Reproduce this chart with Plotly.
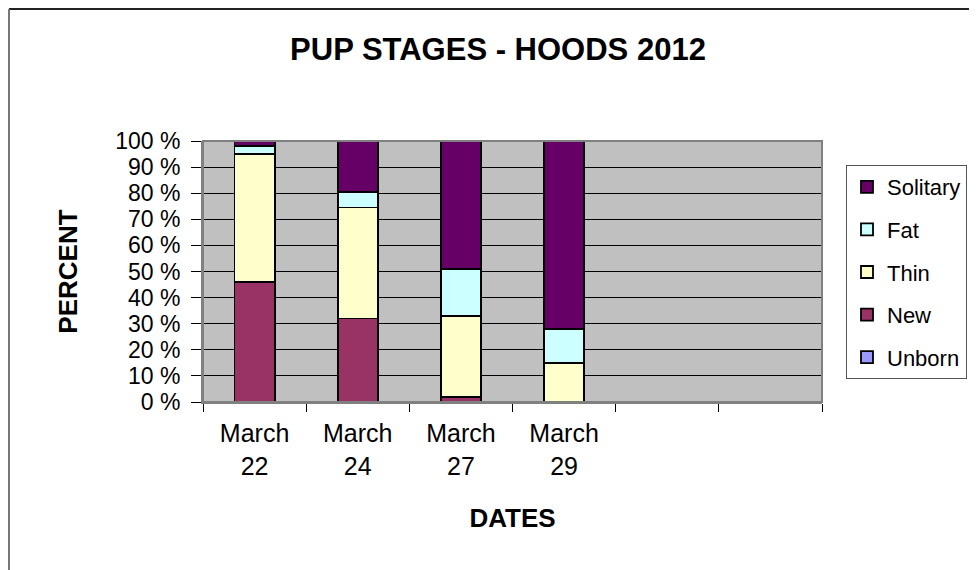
import plotly.graph_objects as go

dates = ["March<br>22", "March<br>24", "March<br>27", "March<br>29"]
empty_slots = [" ", "  "]
categories = dates + empty_slots

unborn = [0, 0, 0, 0]
new = [46, 32, 2, 0]
thin = [49, 42.5, 31, 15]
fat = [3, 6, 18, 13]
solitary = [2, 19.5, 49, 72]

series = [
    ("Unborn", unborn, "#9999FF"),
    ("New", new, "#993366"),
    ("Thin", thin, "#FFFFCC"),
    ("Fat", fat, "#CCFFFF"),
    ("Solitary", solitary, "#660066"),
]

FONT = "Liberation Sans, Arial, sans-serif"

fig = go.Figure()
n = len(series)
for i, (name, vals, color) in enumerate(series):
    fig.add_trace(go.Bar(
        x=dates, y=vals, name=name, legendgroup=name, legendrank=n - i,
        marker=dict(color=color, line=dict(color="black", width=1.8)),
        width=0.39,
    ))

OFF = 8  # page offset of the figure inside the browser window
W, H = 977, 570
L, R, T, B = 203 - OFF, 822 - OFF, 141 - OFF, 402 - OFF


def px(xw):
    return (xw - OFF - L) / (R - L)


def py(yw):
    return (B - (yw - OFF)) / (B - T)


fig.update_layout(
    width=W, height=H,
    margin=dict(l=L, r=W - R, t=T, b=H - B, autoexpand=False),
    barmode="stack",
    paper_bgcolor="white",
    plot_bgcolor="#C0C0C0",
    font=dict(family=FONT, color="black"),
    title=dict(text="<b>PUP STAGES - HOODS 2012</b>", x=(498 - OFF) / W, xref="container",
               y=1 - (49 - OFF) / H, yref="container", xanchor="center", yanchor="middle",
               font=dict(size=31, family=FONT, color="black")),
    xaxis=dict(
        type="category", categoryorder="array", categoryarray=categories,
        range=[-0.5, len(categories) - 0.5],
        tickson="boundaries", ticks="outside", ticklen=8, tickcolor="black", tickwidth=1,
        ticklabelstandoff=8,
        showline=True, linecolor="#808080", linewidth=2,
        showgrid=False,
        tickfont=dict(size=25, family=FONT, color="black"),
        title=dict(text="<b>DATES</b>", font=dict(size=26, family=FONT, color="black"), standoff=30),
        automargin=False,
    ),
    yaxis=dict(
        range=[0, 100], dtick=10, ticksuffix=" %",
        ticks="outside", ticklen=10, tickcolor="black", tickwidth=1,
        ticklabelstandoff=6,
        showline=True, linecolor="#808080", linewidth=2,
        showgrid=True, gridcolor="black", gridwidth=1,
        zeroline=False,
        tickfont=dict(size=23, family=FONT, color="black"),
        title=dict(text="<b>PERCENT</b>", font=dict(size=26, family=FONT, color="black"), standoff=30),
        automargin=False,
    ),
    legend=dict(
        x=px(846), xanchor="left",
        y=py(165), yanchor="top",
        traceorder="grouped", tracegroupgap=11,
        bordercolor="#555555", borderwidth=1, bgcolor="white",
        font=dict(size=22, family=FONT, color="black"),
        itemwidth=30,
    ),
    showlegend=True,
)

# plot area border
fig.add_shape(type="rect", xref="paper", yref="paper", x0=0, x1=1, y0=0, y1=1,
              line=dict(color="#808080", width=2), fillcolor="rgba(0,0,0,0)", layer="above")
# outer chart frame (top and left edges visible in the window)
fig.add_shape(type="line", xref="paper", yref="paper",
              x0=px(9), x1=2.0, y0=py(9), y1=py(9),
              line=dict(color="#222222", width=2), layer="above")
fig.add_shape(type="line", xref="paper", yref="paper",
              x0=px(9), x1=px(9), y0=py(9), y1=-1.5,
              line=dict(color="#777777", width=2), layer="above")

fig.write_html("out.html")
